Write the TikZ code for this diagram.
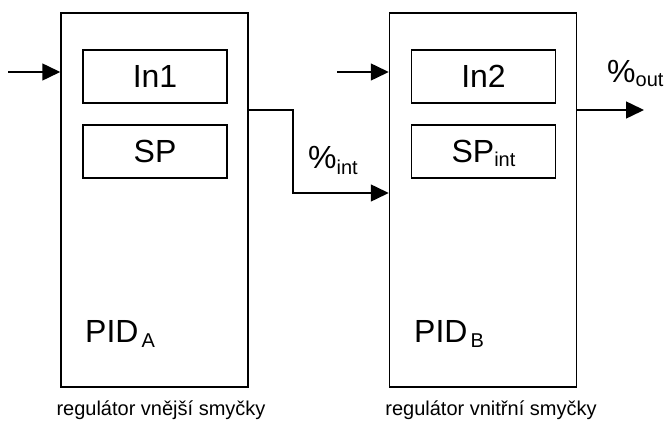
\documentclass[tikz,border=0pt]{standalone}
\usepackage{fontspec}
\setmainfont{Liberation Sans}
\usetikzlibrary{arrows.meta}
\newcommand{\lowsub}[2][5pt]{\raisebox{-#1}{\fontsize{20}{20}\selectfont #2}}
\begin{document}
\begin{tikzpicture}[x=1pt,y=-1pt,
  bigbox/.style={draw, line width=1.5pt, minimum width=187pt, minimum height=374pt, inner sep=0pt},
  smallbox/.style={draw, line width=1.5pt, minimum width=144pt, minimum height=53pt, inner sep=0pt,
    font=\fontsize{32}{32}\selectfont, text height=23pt, text depth=0pt},
  arr/.style={line width=1.5pt, -{Triangle[length=18pt,width=17pt]}},
  lbl/.style={inner sep=0pt, anchor=base west, font=\fontsize{32}{32}\selectfont},
  caption/.style={inner sep=0pt, anchor=base, font=\fontsize{20}{20}\selectfont}]
\useasboundingbox (0,0) rectangle (667,425);
% main blocks
\node[bigbox] (A) at (154.5,200) {};
\node[bigbox] (B) at (483,200) {};
% inner boxes
\node[smallbox] (in1) at (155,76.5) {In1};
\node[smallbox] (sp) at (155,151.5) {SP};
\node[smallbox] (in2) at (483.5,76.5) {In2};
\node[smallbox] (spint) at (483.5,151.5) {SP\lowsub[4pt]{int}};
% labels
\node[lbl] (pida) at (85,342) {PID\hspace{3pt}\lowsub{A}};
\node[lbl] (pidb) at (414,342) {PID\hspace{3pt}\lowsub{B}};
\node[lbl] (pint) at (308,168) {\%\lowsub[6pt]{int}};
\node[lbl] (pout) at (607,83) {\%\lowsub[4pt]{out}};
\node[caption] (capa) at (161,415) {regulátor vnější smyčky};
\node[caption] (capb) at (491,415) {regulátor vnitřní smyčky};
% connectors
\coordinate (ina) at (8,72);
\coordinate (inb) at (337,72);
\coordinate (bend) at (293,0);
\coordinate (outb) at (644,110);
\draw[arr] (ina) -- (ina -| A.west);
\draw[arr] (inb) -- (inb -| B.west);
\draw[arr] (A.east |- 0,110) -- (bend |- 0,110) -- (bend |- 0,193) -- (B.west |- 0,193);
\draw[arr] (B.east |- outb) -- (outb);
\end{tikzpicture}
\end{document}
